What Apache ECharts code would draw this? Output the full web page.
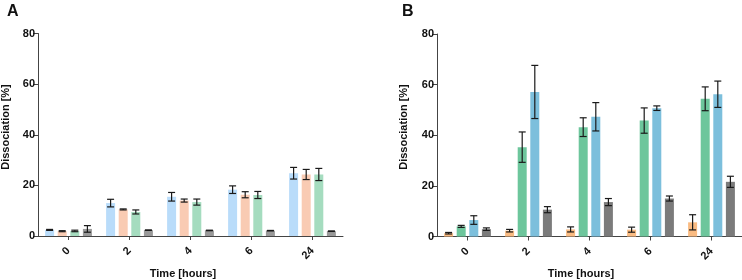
<!DOCTYPE html>
<html>
<head>
<meta charset="utf-8">
<script src="https://cdn.jsdelivr.net/npm/echarts@6/dist/echarts.min.js"></script>
<style>
html,body{margin:0;padding:0;background:#fff;}
#c{width:742px;height:280px;}
</style>
</head>
<body>
<div id="c"></div>
<script>
var categories = ['0', '2', '4', '6', '24'];
var yTicks = [0, 20, 40, 60, 80];

// Panel A
var a1 = [2.4, 13.0, 15.5, 18.3, 24.8];
var a1Err = [0.2, 1.5, 1.7, 1.5, 2.3];
var a2 = [1.9, 10.5, 14.0, 16.3, 24.3];
var a2Err = [0.2, 0.2, 0.6, 1.2, 2.0];
var a3 = [2.0, 9.5, 13.4, 16.2, 24.3];
var a3Err = [0.3, 0.8, 1.2, 1.4, 2.4];
var a4 = [2.8, 2.3, 2.2, 2.1, 1.9];
var a4Err = [1.3, 0.1, 0.1, 0.1, 0.1];

// Panel B
var b1 = [1.3, 2.3, 2.8, 2.7, 5.6];
var b1Err = [0.3, 0.5, 1.0, 1.0, 3.0];
var b2 = [4.0, 35.3, 43.2, 45.8, 54.4];
var b2Err = [0.4, 6.0, 3.7, 5.0, 4.7];
var b3 = [6.5, 57.1, 47.3, 50.7, 56.2];
var b3Err = [1.7, 10.5, 5.6, 0.9, 5.2];
var b4 = [2.9, 10.6, 13.6, 15.0, 21.6];
var b4Err = [0.5, 1.2, 1.4, 1.0, 2.2];

var colorsA = ['#b9dcfa', '#f9cbb3', '#a5dcbf', '#999999'];
var colorsB = ['#fabb82', '#6dc69c', '#7cbfdc', '#7b7b7b'];

var BAR_W = 9, BAR_GAP = 3.6;
var FONT = 'Liberation Sans, Arial, sans-serif';

var chart = echarts.init(document.getElementById('c'));

function yAxis(gi) {
  return {
    gridIndex: gi, type: 'value', min: yTicks[0], max: yTicks[yTicks.length - 1], interval: 20,
    axisLine: {show: true, lineStyle: {color: '#444', width: 1}},
    axisTick: {show: true, length: 5, lineStyle: {color: '#444'}},
    splitLine: {show: false},
    axisLabel: {color: '#111', fontWeight: 'bold', fontSize: 11, fontFamily: FONT, margin: 3}
  };
}
function xAxis(gi) {
  return {
    gridIndex: gi, type: 'category', data: categories,
    axisLine: {show: true, lineStyle: {color: '#444', width: 1}},
    axisTick: {show: true, alignWithLabel: true, length: 4, lineStyle: {color: '#444'}},
    axisLabel: {color: '#111', fontWeight: 'bold', fontSize: 11, fontFamily: FONT, rotate: 45, margin: 13}
  };
}

var series = [];
function addGroup(gi, vals, errs, colors) {
  vals.forEach(function (v, i) {
    series.push({
      type: 'bar', xAxisIndex: gi, yAxisIndex: gi, data: v,
      barWidth: BAR_W, barGap: (BAR_GAP / BAR_W * 100) + '%',
      itemStyle: {color: colors[i]}, silent: true, z: 2
    });
  });
  vals.forEach(function (v, i) {
    var data = v.map(function (val, k) { return [k, val, errs[i][k]]; });
    series.push({
      type: 'custom', xAxisIndex: gi, yAxisIndex: gi, data: data, z: 5, silent: true,
      renderItem: function (params, api) {
        var c = api.value(0), val = api.value(1), e = api.value(2);
        var off = (i - 1.5) * (BAR_W + BAR_GAP);
        var top = api.coord([c, val + e]);
        var bot = api.coord([c, Math.max(0, val - e)]);
        var x = top[0] + off;
        var hw = 3.5;
        var st = {stroke: '#1a1a1a', lineWidth: 1.2};
        return {type: 'group', children: [
          {type: 'line', shape: {x1: x, y1: top[1], x2: x, y2: bot[1]}, style: st},
          {type: 'line', shape: {x1: x - hw, y1: top[1], x2: x + hw, y2: top[1]}, style: st},
          {type: 'line', shape: {x1: x - hw, y1: bot[1], x2: x + hw, y2: bot[1]}, style: st}
        ]};
      }
    });
  });
}
addGroup(0, [a1, a2, a3, a4], [a1Err, a2Err, a3Err, a4Err], colorsA);
addGroup(1, [b1, b2, b3, b4], [b1Err, b2Err, b3Err, b4Err], colorsB);

var titleStyle = {fill: '#111', font: 'bold 11px ' + FONT, textAlign: 'center', textVerticalAlign: 'middle'};
chart.setOption({
  animation: false,
  grid: [
    {left: 38, top: 33.5, width: 305, height: 202.5},
    {left: 437, top: 34, width: 305, height: 202.5}
  ],
  xAxis: [xAxis(0), xAxis(1)],
  yAxis: [yAxis(0), yAxis(1)],
  series: series,
  graphic: [
    {type: 'text', left: 7, top: 4, style: {text: 'A', fill: '#111', font: 'bold 16px ' + FONT}},
    {type: 'text', left: 402, top: 4, style: {text: 'B', fill: '#111', font: 'bold 16px ' + FONT}},
    {type: 'text', x: 183, y: 274, style: Object.assign({text: 'Time [hours]'}, titleStyle)},
    {type: 'text', x: 581, y: 274, style: Object.assign({text: 'Time [hours]'}, titleStyle)},
    {type: 'text', x: 6, y: 127, rotation: Math.PI / 2, style: Object.assign({text: 'Dissociation [%]'}, titleStyle)},
    {type: 'text', x: 404, y: 127, rotation: Math.PI / 2, style: Object.assign({text: 'Dissociation [%]'}, titleStyle)}
  ]
});
</script>
</body>
</html>
